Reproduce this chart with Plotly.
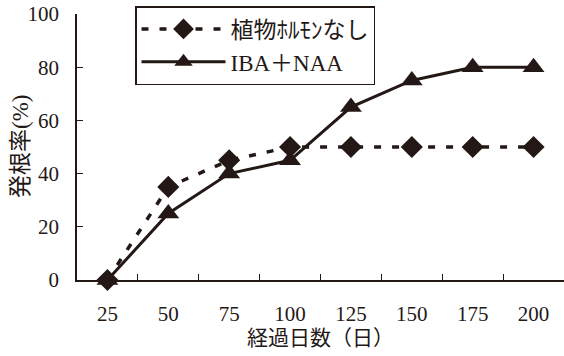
import plotly.graph_objects as go

days = ["25", "50", "75", "100", "125", "150", "175", "200"]
no_hormone = [0, 35, 45, 50, 50, 50, 50, 50]
iba_naa = [0, 25, 40, 45, 65, 75, 80, 80]
y_ticks = [0, 20, 40, 60, 80, 100]

INK = "#231815"
FONT = "Liberation Serif, Noto Sans CJK JP, serif"

fig = go.Figure()
fig.add_trace(go.Scatter(
    x=days, y=iba_naa, name="IBA＋NAA", mode="lines+markers",
    line=dict(color=INK, width=3),
    marker=dict(symbol="triangle-up", size=19, color=INK),
    cliponaxis=False,
))
fig.add_trace(go.Scatter(
    x=days, y=no_hormone, name="植物ﾎﾙﾓﾝなし", mode="lines+markers",
    line=dict(color=INK, width=3.5, dash="7px,11px"),
    marker=dict(symbol="diamond", size=17, color=INK),
    cliponaxis=False,
))

L, R, T, B = 77, 0, 14, 76
PW, PH = 564 - L - R, 356 - T - B
fig.update_layout(
    width=564, height=356,
    margin=dict(l=L, r=R, t=T, b=B, autoexpand=False),
    paper_bgcolor="white", plot_bgcolor="white",
    font=dict(family=FONT, size=18, color=INK),
    showlegend=True,
    legend=dict(
        x=(135 - L) / PW, xanchor="left",
        y=1 + (T - 6) / PH, yanchor="top",
        traceorder="reversed",
        bordercolor=INK, borderwidth=1.5, bgcolor="white",
        font=dict(family=FONT, size=23, color=INK),
        itemwidth=84, tracegroupgap=0,
    ),
    annotations=[dict(
        text="発根率(%)", textangle=-90, showarrow=False,
        xref="paper", yref="paper",
        x=(20 - L) / PW, y=(280 - 147) / PH,
        xanchor="center", yanchor="middle",
        font=dict(family=FONT, size=23, color=INK),
    )],
)

fig.update_xaxes(
    type="category", range=[-0.5, 7.5],
    showline=True, linecolor=INK, linewidth=1.5,
    ticks="inside", tickson="boundaries", ticklen=6, tickcolor=INK, tickwidth=1.2,
    showgrid=False, zeroline=False,
    tickfont=dict(family=FONT, size=21, color=INK),
    ticklabelstandoff=14,
    title=dict(text="経過日数（日）", font=dict(family=FONT, size=21, color=INK), standoff=2),
)
fig.update_yaxes(
    range=[0, 100], tickvals=y_ticks,
    showline=True, linecolor=INK, linewidth=1.5,
    ticks="inside", ticklen=6, tickcolor=INK, tickwidth=1.2,
    showgrid=False, zeroline=False,
    tickfont=dict(family=FONT, size=21, color=INK),
    ticklabelstandoff=12,
)

fig.write_html(
    "out.html",
    config={"displayModeBar": False},
    post_script="document.body.style.margin='0';document.body.style.padding='0';",
)
